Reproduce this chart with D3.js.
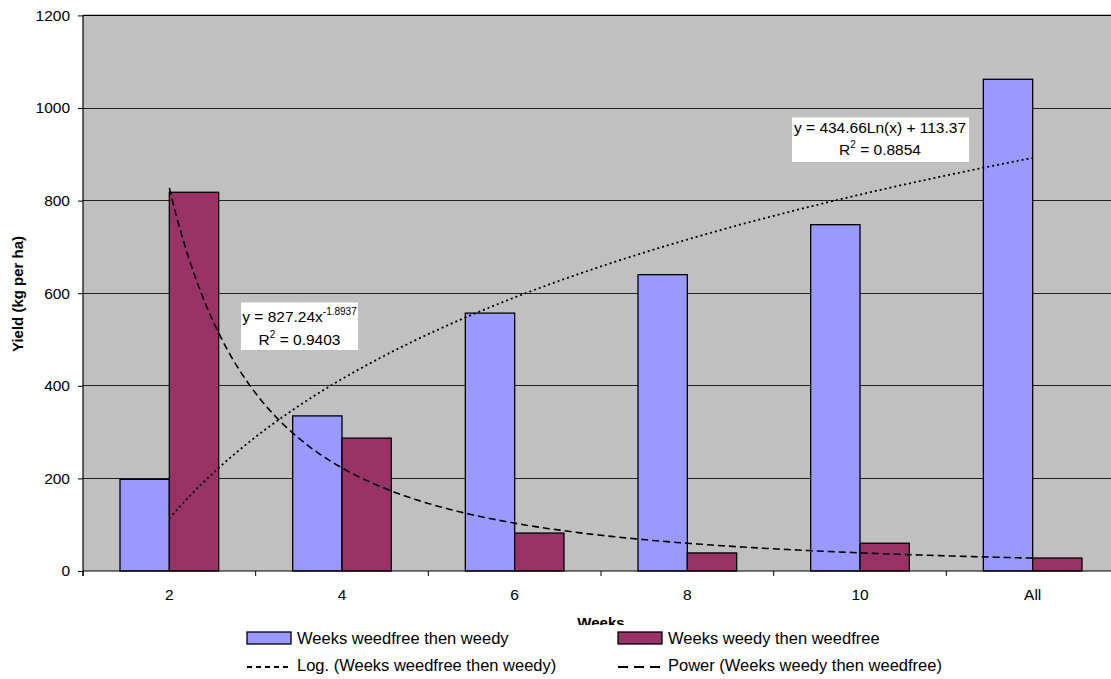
<!DOCTYPE html>
<html>
<head>
<meta charset="utf-8">
<script src="https://cdn.jsdelivr.net/npm/d3@7"></script>
<style>
  html, body { margin: 0; padding: 0; background: #fff; }
  svg { display: block; font-family: "Liberation Sans", Arial, sans-serif; }
</style>
</head>
<body>
<svg id="chart" width="1111" height="679"></svg>
<script>
// Yield by weeks of weed control
const categories = ["2", "4", "6", "8", "10", "All"];
const weedfreeThenWeedy = [198, 335, 557, 640, 748, 1062];
const weedyThenWeedfree = [818, 287, 82, 39, 60, 28];
const seriesNames = ["Weeks weedfree then weedy", "Weeks weedy then weedfree"];
const seriesColors = ["#9999FF", "#993366"];
const yTicks = [0, 200, 400, 600, 800, 1000, 1200];

// Trend line coefficients (x = category position 1..6)
const logCoef = [434.66, 113.37];      // y = a*ln(x) + b
const powCoef = [827.24, -1.8937];     // y = a*x^b
const logR2 = "0.8854";
const powR2 = "0.9403";

const svg = d3.select("#chart");
const plotL = 83, plotT = 15.4, plotB = 571, plotR = 1119;

const x = d3.scaleBand().domain(categories).range([plotL, plotR])
  .paddingInner(0.4286).paddingOuter(0.2143);
const xSub = d3.scaleBand().domain([0, 1]).range([0, x.bandwidth()]);
const xPos = d3.scaleLinear().domain([0.5, categories.length + 0.5]).range([plotL, plotR]);
const y = d3.scaleLinear().domain([0, 1200]).range([plotB, plotT]);

// plot background
svg.append("rect").attr("x", plotL).attr("y", plotT)
  .attr("width", plotR - plotL).attr("height", plotB - plotT).attr("fill", "#C0C0C0");

// gridlines
svg.append("g").selectAll("line").data(yTicks.filter(d => d > 0)).join("line")
  .attr("x1", plotL).attr("x2", plotR)
  .attr("y1", d => y(d)).attr("y2", d => y(d))
  .attr("stroke", "#222").attr("stroke-width", 1).attr("shape-rendering", "crispEdges");

// bars
const series = [weedfreeThenWeedy, weedyThenWeedfree];
series.forEach((vals, si) => {
  svg.append("g").selectAll("rect").data(vals).join("rect")
    .attr("x", (d, i) => x(categories[i]) + xSub(si))
    .attr("y", d => y(d))
    .attr("width", xSub.bandwidth())
    .attr("height", d => y(0) - y(d))
    .attr("fill", seriesColors[si])
    .attr("stroke", "#000").attr("stroke-width", 1.3);
});

// trend lines
const xs = d3.range(1, categories.length + 0.0001, 0.02);
const line = d3.line().x(d => xPos(d[0])).y(d => y(d[1]));
const logPts = xs.map(v => [v, logCoef[0] * Math.log(v) + logCoef[1]]);
const powPts = xs.map(v => [v, powCoef[0] * Math.pow(v, powCoef[1])]);
svg.append("path").attr("d", line(logPts)).attr("fill", "none")
  .attr("stroke", "#000").attr("stroke-width", 1.8).attr("stroke-dasharray", "2,3");
svg.append("path").attr("d", line(powPts)).attr("fill", "none")
  .attr("stroke", "#000").attr("stroke-width", 1.6).attr("stroke-dasharray", "7,4");

// axes
const yAxis = d3.axisLeft(y).tickValues(yTicks).tickFormat(d3.format("d")).tickSize(5).tickPadding(8);
const gy = svg.append("g").attr("transform", `translate(${plotL},0)`).call(yAxis);
gy.select(".domain").remove();
gy.selectAll("text").attr("font-size", 15.5).attr("font-family", "Liberation Sans, Arial, sans-serif").attr("fill", "#000");
gy.selectAll("line").attr("stroke", "#000");

svg.append("line").attr("x1", plotL).attr("x2", plotL).attr("y1", plotT).attr("y2", plotB + 5)
  .attr("stroke", "#000").attr("stroke-width", 1.2);
svg.append("line").attr("x1", plotL).attr("x2", 1111).attr("y1", plotT).attr("y2", plotT)
  .attr("stroke", "#000").attr("stroke-width", 1.2);
svg.append("line").attr("x1", plotL).attr("x2", plotR).attr("y1", plotB).attr("y2", plotB)
  .attr("stroke", "#000").attr("stroke-width", 1.2);

// x boundary ticks between categories
const boundaries = d3.range(0, categories.length + 1).map(i => plotL + i * x.step());
svg.append("g").selectAll("line").data(boundaries).join("line")
  .attr("x1", d => d).attr("x2", d => d).attr("y1", plotB).attr("y2", plotB + 5)
  .attr("stroke", "#000");

svg.append("g").selectAll("text").data(categories).join("text")
  .attr("x", d => x(d) + x.bandwidth() / 2).attr("y", 599.5)
  .attr("text-anchor", "middle").attr("font-size", 15.5).text(d => d);

// axis titles
svg.append("text").attr("x", (plotL + plotR) / 2).attr("y", 628)
  .attr("text-anchor", "middle").attr("font-size", 15).attr("font-weight", "bold").text("Weeks");
svg.append("text").attr("transform", "translate(23,294) rotate(-90)")
  .attr("text-anchor", "middle").attr("font-size", 15).attr("font-weight", "bold")
  .text("Yield (kg per ha)");

// equation labels
function eqLabel(bx, by, bw, bh, cx, line1, sup, line2, b1, b2) {
  const g = svg.append("g");
  g.append("rect").attr("x", bx).attr("y", by).attr("width", bw).attr("height", bh).attr("fill", "#fff");
  const t1 = g.append("text").attr("x", cx).attr("y", b1).attr("text-anchor", "middle").attr("font-size", 15.5);
  t1.append("tspan").text(line1);
  if (sup) t1.append("tspan").attr("font-size", 10).attr("dy", -7).text(sup);
  const t2 = g.append("text").attr("x", cx).attr("y", b2).attr("text-anchor", "middle").attr("font-size", 15.5);
  t2.append("tspan").text("R");
  t2.append("tspan").attr("font-size", 10).attr("dy", -7).text("2");
  t2.append("tspan").attr("dy", 7).text(line2);
}
eqLabel(241, 302.5, 117, 47.5, 299.5, `y = ${powCoef[0]}x`, `${powCoef[1]}`, ` = ${powR2}`, 321.5, 345);
eqLabel(792, 117.5, 177, 44.5, 880, `y = ${logCoef[0]}Ln(x) + ${logCoef[1]}`, null, ` = ${logR2}`, 133, 154.5);

// legend
const lg = svg.append("g");
lg.append("rect").attr("x", 238).attr("y", 625).attr("width", 730).attr("height", 54).attr("fill", "#fff");
const cols = [247, 618];
series.forEach((s, i) => {
  lg.append("rect").attr("x", cols[i]).attr("y", 632).attr("width", 44).attr("height", 12)
    .attr("fill", seriesColors[i]).attr("stroke", "#000").attr("stroke-width", 1.3);
  lg.append("text").attr("x", cols[i] + 50).attr("y", 644).attr("font-size", 16.5).text(seriesNames[i]);
});
lg.append("line").attr("x1", cols[0]).attr("x2", cols[0] + 44).attr("y1", 667).attr("y2", 667)
  .attr("stroke", "#000").attr("stroke-width", 1.8).attr("stroke-dasharray", "5,4");
lg.append("text").attr("x", cols[0] + 50).attr("y", 671).attr("font-size", 16.5)
  .text(`Log. (${seriesNames[0]})`);
lg.append("line").attr("x1", cols[1]).attr("x2", cols[1] + 44).attr("y1", 667).attr("y2", 667)
  .attr("stroke", "#000").attr("stroke-width", 1.8).attr("stroke-dasharray", "10,6");
lg.append("text").attr("x", cols[1] + 50).attr("y", 671).attr("font-size", 16.5)
  .text(`Power (${seriesNames[1]})`);
</script>
</body>
</html>
